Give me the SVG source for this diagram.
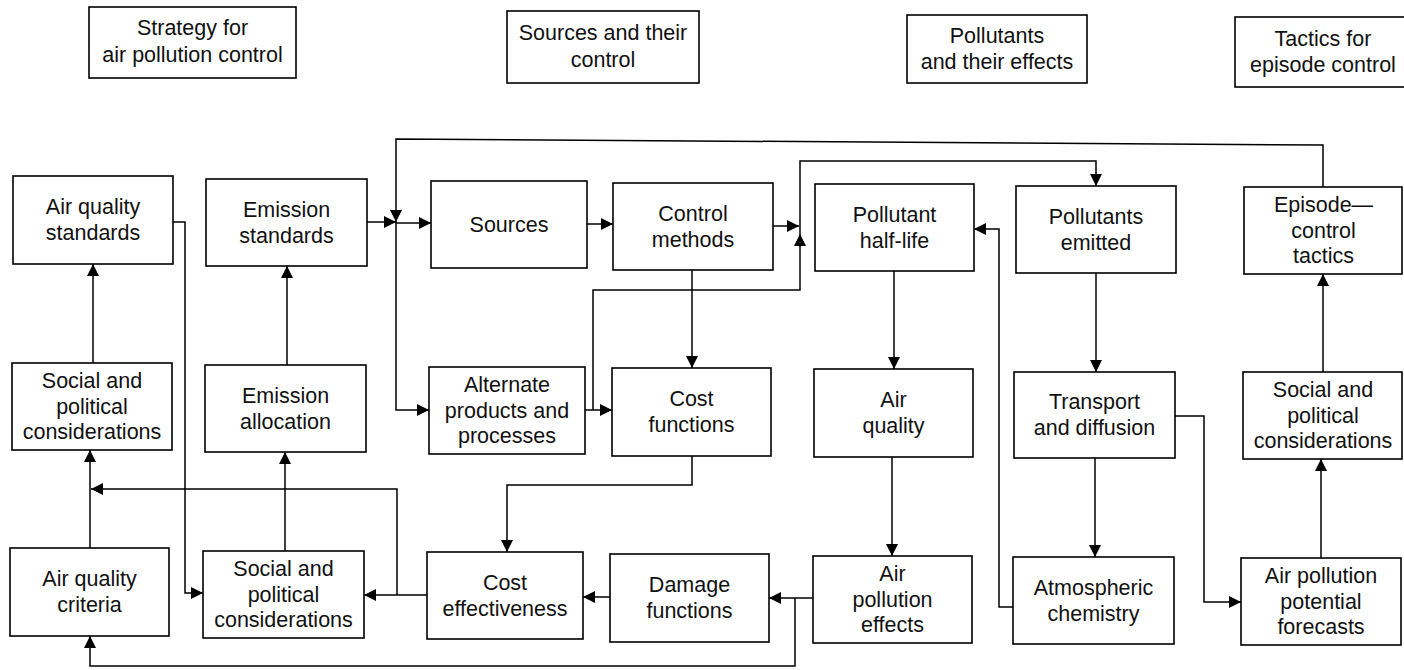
<svg xmlns="http://www.w3.org/2000/svg" width="1404" height="670" viewBox="0 0 1404 670">
<style>
.box{fill:#fff;stroke:#000;stroke-width:1.6}
.t{font-family:"Liberation Sans",Arial,Helvetica,sans-serif;font-size:21.5px;text-anchor:middle;fill:#111}
.c{fill:none;stroke:#000;stroke-width:1.5}
.a{marker-end:url(#ah)}
</style>
<defs>
<marker id="ah" markerUnits="userSpaceOnUse" markerWidth="12" markerHeight="12" refX="12" refY="6" orient="auto">
<path d="M0,0 L12,6 L0,12 z" fill="#000"/>
</marker>
</defs>
<rect width="1404" height="670" fill="#fff"/>

<g id="header-strategy"><rect class="box" x="89" y="7" width="207" height="71"/><text class="t"><tspan x="192.5" y="35">Strategy for</tspan><tspan x="192.5" y="62">air pollution control</tspan></text></g>
<g id="header-sources"><rect class="box" x="507" y="11" width="192" height="72"/><text class="t"><tspan x="603" y="40">Sources and their</tspan><tspan x="603" y="67">control</tspan></text></g>
<g id="header-pollutants"><rect class="box" x="907" y="15" width="180" height="68"/><text class="t"><tspan x="997" y="43">Pollutants</tspan><tspan x="997" y="69">and their effects</tspan></text></g>
<g id="header-tactics"><rect class="box" x="1235" y="17" width="200" height="70"/><text class="t"><tspan x="1323" y="46">Tactics for</tspan><tspan x="1323" y="72">episode control</tspan></text></g>

<g id="connectors">
<polyline class="c a" points="173,222 185,222 185,593 203,593"/>
<polyline class="c a" points="93,363 93,264"/>
<polyline class="c a" points="90,548 90,450"/>
<polyline class="c a" points="427,595 364,595"/>
<polyline class="c a" points="397,595 397,489 91,489"/>
<polyline class="c a" points="285,551 285,452"/>
<polyline class="c a" points="287,365 287,266"/>
<polyline class="c a" points="367,222 396,222"/>
<polyline class="c a" points="396,223 431,223"/>
<polyline class="c a" points="1323,187 1323,145 396,139 396,222"/>
<polyline class="c a" points="396,222 396,410 429,410"/>
<polyline class="c a" points="587,224 613,224"/>
<polyline class="c a" points="773,226 799,226"/>
<polyline class="c a" points="585,410 612,410"/>
<polyline class="c a" points="593,410 593,290 800,290 800,234"/>
<polyline class="c a" points="800,234 800,161 1096,161 1096,186"/>
<polyline class="c a" points="692,270 692,368"/>
<polyline class="c a" points="692,456 692,485 507,485 507,552"/>
<polyline class="c a" points="610,597 583,597"/>
<polyline class="c a" points="813,598 769,598"/>
<polyline class="c a" points="795,598 795,666 90,666 90,636"/>
<polyline class="c a" points="894,271 894,369"/>
<polyline class="c a" points="892,457 892,556"/>
<polyline class="c a" points="1013,607 999,607 999,229 974,229"/>
<polyline class="c a" points="1096,273 1096,372"/>
<polyline class="c a" points="1095,458 1095,557"/>
<polyline class="c a" points="1175,416 1204,416 1204,602 1241,602"/>
<polyline class="c a" points="1321,558 1321,459"/>
<polyline class="c a" points="1323,372 1323,274"/>
</g>

<g id="air-quality-standards"><rect class="box" x="13" y="176" width="160" height="88"/><text class="t"><tspan x="93" y="214">Air quality</tspan><tspan x="93" y="240">standards</tspan></text></g>
<g id="emission-standards"><rect class="box" x="206" y="179" width="161" height="87"/><text class="t"><tspan x="286.5" y="216.5">Emission</tspan><tspan x="286.5" y="242.5">standards</tspan></text></g>
<g id="sources"><rect class="box" x="431" y="181" width="156" height="87"/><text class="t"><tspan x="509" y="231.5">Sources</tspan></text></g>
<g id="control-methods"><rect class="box" x="613" y="183" width="160" height="87"/><text class="t"><tspan x="693" y="220.5">Control</tspan><tspan x="693" y="246.5">methods</tspan></text></g>
<g id="pollutant-half-life"><rect class="box" x="815" y="184" width="159" height="87"/><text class="t"><tspan x="894.5" y="221.5">Pollutant</tspan><tspan x="894.5" y="247.5">half-life</tspan></text></g>
<g id="pollutants-emitted"><rect class="box" x="1016" y="186" width="160" height="87"/><text class="t"><tspan x="1096" y="223.5">Pollutants</tspan><tspan x="1096" y="249.5">emitted</tspan></text></g>
<g id="episode-control-tactics"><rect class="box" x="1244" y="187" width="158" height="87"/><text class="t"><tspan x="1323.5" y="212">Episode—</tspan><tspan x="1323.5" y="237.5">control</tspan><tspan x="1323.5" y="263">tactics</tspan></text></g>

<g id="social-political-1"><rect class="box" x="12" y="363" width="160" height="87"/><text class="t"><tspan x="92" y="388">Social and</tspan><tspan x="92" y="413.5">political</tspan><tspan x="92" y="439">considerations</tspan></text></g>
<g id="emission-allocation"><rect class="box" x="205" y="365" width="161" height="87"/><text class="t"><tspan x="285.5" y="402.5">Emission</tspan><tspan x="285.5" y="428.5">allocation</tspan></text></g>
<g id="alternate-products"><rect class="box" x="429" y="367" width="156" height="87"/><text class="t"><tspan x="507" y="392">Alternate</tspan><tspan x="507" y="417.5">products and</tspan><tspan x="507" y="443">processes</tspan></text></g>
<g id="cost-functions"><rect class="box" x="612" y="368" width="159" height="88"/><text class="t"><tspan x="691.5" y="406">Cost</tspan><tspan x="691.5" y="432">functions</tspan></text></g>
<g id="air-quality"><rect class="box" x="814" y="369" width="159" height="88"/><text class="t"><tspan x="893.5" y="407">Air</tspan><tspan x="893.5" y="433">quality</tspan></text></g>
<g id="transport-diffusion"><rect class="box" x="1014" y="372" width="161" height="86"/><text class="t"><tspan x="1094.5" y="409">Transport</tspan><tspan x="1094.5" y="435">and diffusion</tspan></text></g>
<g id="social-political-3"><rect class="box" x="1243" y="372" width="159" height="87"/><text class="t"><tspan x="1323" y="397">Social and</tspan><tspan x="1323" y="422.5">political</tspan><tspan x="1323" y="448">considerations</tspan></text></g>

<g id="air-quality-criteria"><rect class="box" x="10" y="548" width="159" height="88"/><text class="t"><tspan x="89.5" y="586">Air quality</tspan><tspan x="89.5" y="612">criteria</tspan></text></g>
<g id="social-political-2"><rect class="box" x="203" y="551" width="161" height="87"/><text class="t"><tspan x="283.5" y="576">Social and</tspan><tspan x="283.5" y="601.5">political</tspan><tspan x="283.5" y="627">considerations</tspan></text></g>
<g id="cost-effectiveness"><rect class="box" x="427" y="552" width="156" height="87"/><text class="t"><tspan x="505" y="589.5">Cost</tspan><tspan x="505" y="615.5">effectiveness</tspan></text></g>
<g id="damage-functions"><rect class="box" x="610" y="554" width="159" height="88"/><text class="t"><tspan x="689.5" y="592">Damage</tspan><tspan x="689.5" y="618">functions</tspan></text></g>
<g id="air-pollution-effects"><rect class="box" x="813" y="556" width="159" height="87"/><text class="t"><tspan x="892.5" y="581">Air</tspan><tspan x="892.5" y="606.5">pollution</tspan><tspan x="892.5" y="632">effects</tspan></text></g>
<g id="atmospheric-chemistry"><rect class="box" x="1013" y="557" width="161" height="87"/><text class="t"><tspan x="1093.5" y="594.5">Atmospheric</tspan><tspan x="1093.5" y="620.5">chemistry</tspan></text></g>
<g id="air-pollution-forecasts"><rect class="box" x="1241" y="558" width="160" height="87"/><text class="t"><tspan x="1321" y="583">Air pollution</tspan><tspan x="1321" y="608.5">potential</tspan><tspan x="1321" y="634">forecasts</tspan></text></g>
</svg>
